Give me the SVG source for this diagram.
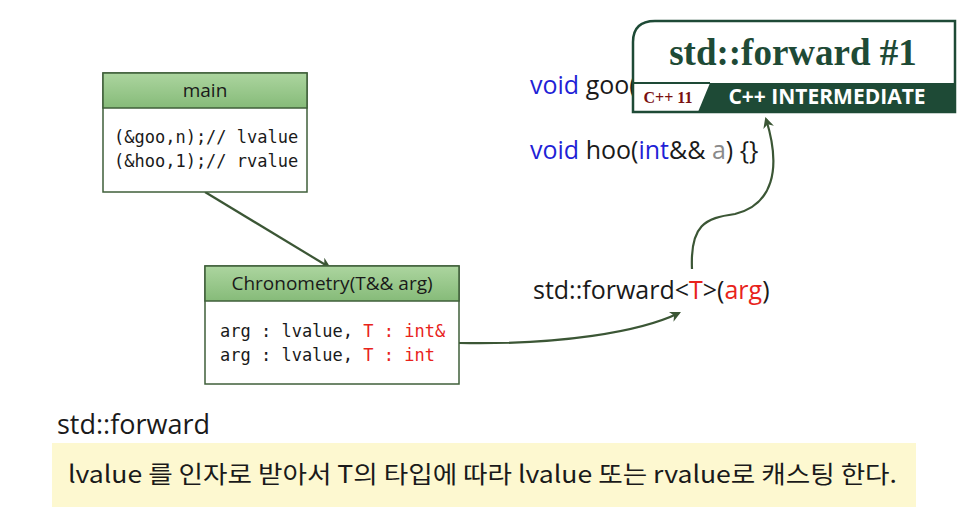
<svg xmlns="http://www.w3.org/2000/svg" width="963" height="523" viewBox="0 0 963 523">
  <style>
    .box { fill: #ffffff; stroke: #3f5f3a; stroke-width: 1.5; }
    .hdr { fill: url(#hdrGrad); stroke: #3f5f3a; stroke-width: 1.5; }
    .hdrText { font-family: "Open Sans", "Noto Sans", sans-serif; font-size: 19px; fill: #1a1a1a; text-anchor: middle; }
    .mono { font-family: "DejaVu Sans Mono", "Liberation Mono", monospace; font-size: 17px; fill: #1a1a1a; }
    .red { fill: #e8231b; }
    .code { font-family: "Open Sans", "Noto Sans", sans-serif; font-size: 25px; fill: #1a1a1a; }
    .kw { fill: #1f1fd6; }
    .gray { fill: #8a8a8a; }
    .conn { fill: none; stroke: #3b5635; stroke-width: 2.2; }
  </style>
  <defs>
    <linearGradient id="hdrGrad" x1="0" y1="0" x2="0" y2="1">
      <stop offset="0" stop-color="#acd59f"/>
      <stop offset="1" stop-color="#86bb79"/>
    </linearGradient>
    <marker id="arrow" viewBox="0 0 10 10" refX="8" refY="5" markerWidth="5" markerHeight="5" orient="auto">
      <path d="M0,0 L10,5 L0,10 L3,5 z" fill="#3b5635"/>
    </marker>
  </defs>

  <!-- code samples -->
  <g id="goo">
    <text class="code" x="530" y="94"><tspan class="kw">void</tspan> goo(</text>
  </g>
  <g id="hoo">
    <text class="code" x="530" y="159"><tspan class="kw">void</tspan> hoo(<tspan class="kw">int</tspan>&amp;&amp; <tspan class="gray">a</tspan>) {}</text>
  </g>
  <g id="forward-call">
    <text class="code" x="533" y="299">std::forward&lt;<tspan class="red">T</tspan>&gt;(<tspan class="red">arg</tspan>)</text>
  </g>

  <!-- connectors -->
  <g id="connectors">
    <path class="conn" d="M205,192 L329,267" marker-end="url(#arrow)"/>
    <path class="conn" d="M459,343 C560,345 640,332 679,313" marker-end="url(#arrow)"/>
    <path class="conn" d="M692,269 C690,225 705,218 735,214 C772,205 782,170 766,119" marker-end="url(#arrow)"/>
  </g>

  <!-- main -->
  <g id="main">
    <rect class="box" x="103" y="73" width="204" height="119"/>
    <rect class="hdr" x="103" y="73" width="204" height="35"/>
    <text class="hdrText" x="205" y="97">main</text>
    <text class="mono" x="114" y="143">(&amp;goo,n);// lvalue</text>
    <text class="mono" x="114" y="167">(&amp;hoo,1);// rvalue</text>
  </g>

  <!-- Chronometry -->
  <g id="chronometry">
    <rect class="box" x="205" y="266" width="254" height="118"/>
    <rect class="hdr" x="205" y="266" width="254" height="35"/>
    <text class="hdrText" x="332" y="290">Chronometry(T&amp;&amp; arg)</text>
    <text class="mono" x="220" y="337">arg : lvalue, <tspan class="red">T : int&amp;</tspan></text>
    <text class="mono" x="220" y="361">arg : lvalue, <tspan class="red">T : int</tspan></text>
  </g>

  <!-- title badge -->
  <g id="title">
    <path d="M633,112 L633,42 Q633,21 655,21 L955,21 L955,112 Z" fill="#ffffff" stroke="#1e4a36" stroke-width="2.5"/>
    <text x="793" y="65" font-family="Liberation Serif, serif" font-weight="bold" font-size="37" fill="#1e4a36" text-anchor="middle">std::forward #1</text>
    <path d="M698,112 L710,83 L955,83 L955,112 Z" fill="#1e4a36"/>
    <line x1="633" y1="83" x2="710" y2="83" stroke="#1e4a36" stroke-width="2"/>
    <text x="668" y="103" font-family="Liberation Serif, serif" font-weight="bold" font-size="16" fill="#7a1010" text-anchor="middle">C++ 11</text>
    <text x="827" y="104" font-family="Open Sans, Liberation Sans, sans-serif" font-weight="bold" font-size="21" fill="#ffffff" text-anchor="middle">C++ INTERMEDIATE</text>
  </g>

  <!-- note -->
  <g id="note">
    <text x="57" y="434" font-family="Open Sans, Noto Sans, sans-serif" font-size="27" fill="#1a1a1a">std::forward</text>
    <rect x="52" y="443" width="864" height="64" fill="#fdf8d0"/>
    <text x="68" y="483" font-family="Noto Sans CJK KR, sans-serif" font-size="24" fill="#1a1a1a" textLength="829" lengthAdjust="spacingAndGlyphs">lvalue 를 인자로 받아서 T의 타입에 따라 lvalue 또는 rvalue로 캐스팅 한다.</text>
  </g>
</svg>
